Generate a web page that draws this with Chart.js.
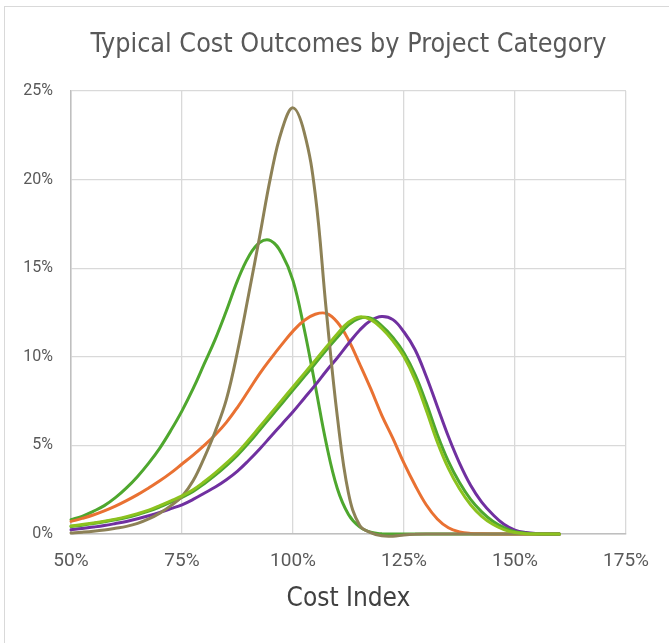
<!DOCTYPE html>
<html>
<head>
<meta charset="utf-8">
<title>Typical Cost Outcomes by Project Category</title>
<script src="https://cdn.jsdelivr.net/npm/chart.js@4.4.1/dist/chart.umd.min.js"></script>
<style>
  html, body { margin: 0; padding: 0; background: #fff; overflow: hidden; }
  #frame { position: absolute; left: 4px; top: 6px; width: 700px; height: 700px; border: 1px solid #d9d9d9; }
  #box { position: absolute; left: 0; top: 0; width: 669px; height: 643px; }
</style>
</head>
<body>
<div id="frame"></div>
<div id="box"><canvas id="chart"></canvas></div>
<script>
// cost index (%) where each curve is sampled
const costIndex = [50, 52.5, 55, 57.5, 60, 62.5, 65, 67.5, 70, 72.5, 75, 77.5, 80, 82.5, 85, 87.5,
  90, 92.5, 95, 97.5, 100, 102.5, 105, 107.5, 110, 112.5, 115, 117.5, 120, 122.5, 125, 127.5,
  130, 132.5, 135, 137.5, 140, 142.5, 145, 147.5, 150, 152.5, 155, 157.5, 160];

// probability (%) for each category
const greenSeries = [0.81, 1.0, 1.28, 1.6, 2.05, 2.6, 3.25, 4.0, 4.85, 5.85, 6.95, 8.2, 9.6, 11.0, 12.6, 14.3,
  15.65, 16.45, 16.55, 15.8, 14.3, 11.6, 8.4, 5.1, 2.55, 1.1, 0.4, 0.1, 0.01, 0, 0, 0,
  0, 0, 0, 0, 0, 0, 0, 0, 0, 0, 0, 0, 0];
const tanSeries = [0.06, 0.1, 0.15, 0.22, 0.32, 0.43, 0.6, 0.85, 1.18, 1.6, 2.12, 3.0, 4.3, 5.8, 7.6, 10.3,
  13.5, 16.8, 20.2, 22.8, 24.05, 22.7, 19.2, 12.6, 6.6, 2.3, 0.5, 0.08, -0.1, -0.12, -0.06, -0.02,
  0, 0, 0, 0, 0, 0, 0, 0, 0, 0, 0, 0, 0];
const orangeSeries = [0.71, 0.88, 1.07, 1.3, 1.57, 1.88, 2.22, 2.6, 3.0, 3.45, 3.95, 4.45, 5.0, 5.6, 6.3, 7.15,
  8.1, 9.05, 9.9, 10.7, 11.45, 12.05, 12.4, 12.45, 11.95, 10.95, 9.6, 8.2, 6.7, 5.4, 4.0, 2.75,
  1.65, 0.85, 0.35, 0.12, 0.03, 0.01, 0, 0, 0, 0, 0, 0, 0];
const limeSeries = [0.45, 0.53, 0.62, 0.72, 0.84, 0.98, 1.15, 1.35, 1.6, 1.87, 2.15, 2.5, 2.95, 3.45, 4.0, 4.6,
  5.3, 6.05, 6.8, 7.55, 8.3, 9.05, 9.8, 10.55, 11.3, 11.95, 12.25, 12.1, 11.6, 10.9, 10.0, 8.7,
  7.0, 5.2, 3.7, 2.55, 1.65, 1.0, 0.55, 0.25, 0.08, 0.02, 0, 0, 0];
const forestSeries = [0.42, 0.5, 0.59, 0.69, 0.8, 0.93, 1.1, 1.29, 1.53, 1.8, 2.07, 2.4, 2.84, 3.32, 3.86, 4.45,
  5.13, 5.87, 6.62, 7.37, 8.12, 8.87, 9.62, 10.38, 11.1, 11.8, 12.18, 12.18, 11.75, 11.1, 10.22, 9.0,
  7.4, 5.62, 4.1, 2.9, 1.95, 1.25, 0.72, 0.36, 0.13, 0.04, 0.01, 0, 0];
const purpleSeries = [0.24, 0.31, 0.39, 0.48, 0.59, 0.71, 0.86, 1.03, 1.22, 1.43, 1.65, 1.95, 2.3, 2.65, 3.06, 3.55,
  4.15, 4.8, 5.5, 6.2, 6.9, 7.65, 8.4, 9.2, 9.95, 10.75, 11.5, 12.05, 12.28, 12.1, 11.4, 10.4,
  8.9, 7.2, 5.5, 4.0, 2.75, 1.8, 1.1, 0.55, 0.22, 0.08, 0.02, 0, 0];

const xTicks = [50, 75, 100, 125, 150, 175];
const yTicks = [0, 5, 10, 15, 20, 25];

const textColor = '#595959';
const gridColor = '#d9d9d9';

function points(values) {
  return costIndex.map((x, i) => ({ x: x, y: values[i] }));
}

function line(values, color) {
  return {
    data: points(values),
    borderColor: color,
    backgroundColor: color,
    borderWidth: 3,
    borderCapStyle: 'round',
    borderJoinStyle: 'round',
    pointRadius: 0,
    showLine: true,
    tension: 0.4,
    clip: false
  };
}

new Chart(document.getElementById('chart'), {
  type: 'scatter',
  data: {
    // first dataset ends up on top
    datasets: [
      line(limeSeries, '#8cc21f'),
      line(tanSeries, '#8d8156'),
      line(forestSeries, '#4ea72e'),
      line(purpleSeries, '#7030a0'),
      line(orangeSeries, '#e97132'),
      line(greenSeries, '#4ea72e')
    ]
  },
  options: {
    responsive: true,
    maintainAspectRatio: false,
    animation: false,
    layout: { padding: { left: 0, right: 43, top: 0, bottom: 0 } },
    plugins: {
      legend: { display: false },
      tooltip: { enabled: false },
      title: {
        display: true,
        text: 'Typical Cost Outcomes by Project Category',
        fullSize: false,
        color: textColor,
        font: { family: 'DejaVu Sans Condensed', size: 26.7, weight: 'normal' },
        padding: { top: 29, bottom: 30 }
      }
    },
    scales: {
      x: {
        type: 'linear',
        min: xTicks[0],
        max: xTicks[xTicks.length - 1],
        afterBuildTicks: s => { s.ticks = xTicks.map(v => ({ value: v })); },
        afterFit: s => { s.height = 109; },
        ticks: {
          callback: v => v + '%',
          color: textColor,
          font: { family: 'Roboto', size: 19 },
          padding: 16
        },
        grid: { color: gridColor, lineWidth: 1.3, drawTicks: false },
        border: { color: '#bfbfbf', width: 1.5 },
        title: {
          display: true,
          text: 'Cost Index',
          color: '#404040',
          font: { family: 'DejaVu Sans Condensed', size: 26 },
          padding: { top: 0, bottom: 28 }
        }
      },
      y: {
        min: yTicks[0],
        max: yTicks[yTicks.length - 1],
        afterBuildTicks: s => { s.ticks = yTicks.map(v => ({ value: v })); },
        afterFit: s => { s.width = 71; },
        ticks: {
          callback: v => v + '%',
          color: textColor,
          font: { family: 'Roboto', size: 16 },
          padding: 18
        },
        grid: { color: gridColor, lineWidth: 1.3, drawTicks: false },
        border: { color: '#bfbfbf', width: 1.5 }
      }
    }
  }
});
</script>
</body>
</html>
